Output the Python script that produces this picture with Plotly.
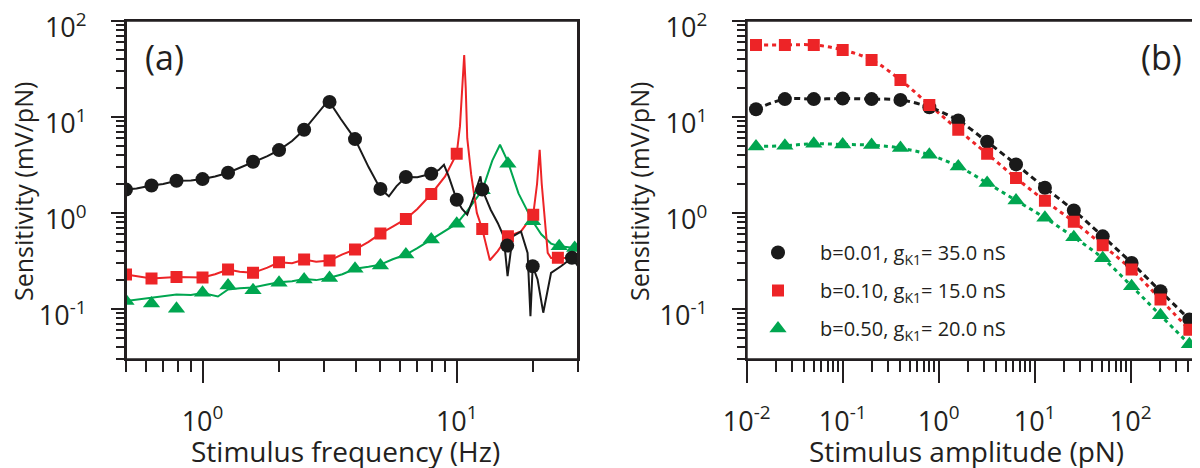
import plotly.graph_objects as go

# ---------------- Panel (a): sensitivity vs stimulus frequency ----------------
a_black_f = [0.5, 0.63, 0.79, 1.0, 1.26, 1.58, 2.0, 2.51, 3.16, 3.98, 5.01, 6.31, 7.94, 10.0, 12.6, 15.8, 19.9, 28.4]
a_black_s = [1.75, 1.93, 2.16, 2.25, 2.62, 3.41, 4.51, 7.33, 14.3, 5.87, 1.78, 2.37, 2.56, 1.37, 1.75, 0.457, 0.279, 0.341]
a_red_f = [0.5, 0.63, 0.79, 1.0, 1.26, 1.58, 2.0, 2.51, 3.16, 3.98, 5.01, 6.31, 7.94, 10.0, 12.6, 15.9, 20.0, 25.0]
a_red_s = [0.229, 0.208, 0.216, 0.213, 0.258, 0.238, 0.307, 0.327, 0.320, 0.416, 0.61, 0.867, 1.575, 4.13, 0.682, 0.571, 0.96, 0.341]
a_green_f = [0.5, 0.63, 0.79, 1.0, 1.26, 1.58, 2.0, 2.51, 3.16, 3.98, 5.01, 6.31, 7.94, 10.0, 12.6, 15.9, 19.9, 25.3, 29.1]
a_green_s = [0.121, 0.114, 0.1007, 0.1477, 0.176, 0.157, 0.1876, 0.203, 0.211, 0.262, 0.284, 0.369, 0.528, 0.774, 1.72, 3.25, 0.818, 0.45, 0.433]

a_black_line_f = [0.5, 0.55, 0.63, 0.7, 0.79, 0.9, 1.0, 1.12, 1.26, 1.4, 1.58, 1.8, 2.0, 2.25, 2.51, 2.8, 3.0, 3.16,
                  3.5, 3.98, 4.5, 5.01, 5.41, 5.8, 6.31, 7.0, 7.94, 8.5, 8.91, 9.3, 10.0, 10.5, 11.0, 11.7, 12.4,
                  12.6, 13.6, 14.5, 15.3, 15.85, 16.6, 17.9, 19.0, 19.5, 19.9, 20.8, 21.9, 23.5, 25.7, 28.4, 30.0]
a_black_line_s = [1.75, 1.80, 1.93, 2.0, 2.16, 2.18, 2.25, 2.4, 2.62, 2.95, 3.41, 3.9, 4.51, 5.6, 7.33, 10.5, 13.0, 14.3,
                  9.5, 5.87, 3.0, 1.78, 1.49, 1.9, 2.37, 2.35, 2.56, 2.8, 3.17, 2.4, 1.37, 1.1, 0.96, 1.5, 2.4,
                  1.75, 1.08, 0.787, 0.571, 0.22, 0.571, 0.64, 0.384, 0.084, 0.279, 0.203, 0.0916, 0.238, 0.279, 0.341, 0.279]
a_red_line_f = [0.5, 0.63, 0.79, 1.0, 1.12, 1.26, 1.4, 1.58, 1.8, 2.0, 2.25, 2.51, 2.8, 3.16, 3.55, 3.98, 4.5, 5.01,
                5.6, 6.31, 7.0, 7.94, 9.0, 10.0, 10.3, 10.5, 10.7, 10.85, 11.0, 11.4, 12.0, 12.6, 13.5, 14.5, 15.9,
                17.9, 20.0, 20.7, 21.2, 21.6, 22.2, 22.8, 23.5, 25.0, 30.0]
a_red_line_s = [0.229, 0.208, 0.216, 0.213, 0.23, 0.258, 0.245, 0.238, 0.27, 0.307, 0.30, 0.327, 0.31, 0.320, 0.37, 0.416,
                0.5, 0.61, 0.72, 0.867, 1.1, 1.575, 2.4, 4.13, 8.0, 18.0, 44.0, 20.0, 6.0, 2.5, 1.0, 0.682, 0.322,
                0.40, 0.571, 0.644, 0.96, 2.0, 4.54, 2.0, 0.8, 0.384, 0.34, 0.341, 0.34]
a_green_line_f = [0.5, 0.63, 0.79, 0.9, 1.0, 1.15, 1.26, 1.4, 1.58, 1.8, 2.0, 2.25, 2.51, 2.8, 3.16, 3.55, 3.98, 4.5,
                  5.01, 5.6, 6.31, 7.0, 7.94, 9.0, 10.0, 11.0, 12.6, 13.8, 14.8, 15.9, 17.5, 19.9, 21.5, 23.5, 25.3, 30.0]
a_green_line_s = [0.121, 0.13, 0.142, 0.14, 0.147, 0.135, 0.16, 0.165, 0.168, 0.18, 0.19, 0.195, 0.205, 0.2, 0.212,
                  0.23, 0.262, 0.275, 0.29, 0.33, 0.369, 0.43, 0.528, 0.65, 0.774, 1.05, 1.72, 3.5, 5.12, 3.4, 1.6,
                  0.818, 0.6, 0.48, 0.45, 0.43]

# ---------------- Panel (b): sensitivity vs stimulus amplitude ----------------
b_amp = [0.0125, 0.025, 0.05, 0.1, 0.2, 0.4, 0.8, 1.6, 3.2, 6.4, 12.8, 25.6, 51.2, 102.4, 204.8, 409.6]
b_black = [12.0, 15.3, 15.3, 15.5, 15.3, 15.0, 12.6, 9.16, 5.50, 3.20, 1.83, 1.06, 0.571, 0.302, 0.153, 0.078]
b_red = [56.0, 56.0, 56.0, 49.7, 39.1, 24.2, 13.3, 7.33, 4.13, 2.31, 1.34, 0.81, 0.461, 0.258, 0.126, 0.061]
b_green = [4.92, 5.0, 5.25, 5.16, 5.08, 4.73, 4.03, 3.05, 2.05, 1.35, 0.89, 0.56, 0.338, 0.173, 0.086, 0.043]

legend_names = ["b=0.01, g<sub>K1</sub>= 35.0 nS",
                "b=0.10, g<sub>K1</sub>= 15.0 nS",
                "b=0.50, g<sub>K1</sub>= 20.0 nS"]

FONT = "Open Sans"
INK = "#231f20"
BLACK = "#1a1a1a"
RED = "#ed2427"
GREEN = "#00a650"

fig = go.Figure()

for f, s, c in [(a_green_line_f, a_green_line_s, GREEN), (a_red_line_f, a_red_line_s, RED),
                (a_black_line_f, a_black_line_s, BLACK)]:
    fig.add_trace(go.Scatter(x=f, y=s, mode="lines", line=dict(color=c, width=2),
                             xaxis="x", yaxis="y", showlegend=False, hoverinfo="skip"))
fig.add_trace(go.Scatter(x=a_green_f, y=a_green_s, mode="markers",
                         marker=dict(symbol="triangle-up", size=15, color=GREEN),
                         xaxis="x", yaxis="y", showlegend=False))
fig.add_trace(go.Scatter(x=a_red_f, y=a_red_s, mode="markers",
                         marker=dict(symbol="square", size=12, color=RED),
                         xaxis="x", yaxis="y", showlegend=False))
fig.add_trace(go.Scatter(x=a_black_f, y=a_black_s, mode="markers",
                         marker=dict(symbol="circle", size=14, color=BLACK),
                         xaxis="x", yaxis="y", showlegend=False))

for s, c, d in [(b_green, GREEN, "4px,4px"), (b_red, RED, "4px,4px"), (b_black, BLACK, "6px,4px")]:
    fig.add_trace(go.Scatter(x=b_amp, y=s, mode="lines", line=dict(color=c, width=3, dash=d, shape="spline"),
                             xaxis="x2", yaxis="y2", showlegend=False, hoverinfo="skip"))
for s, c, sym, sz, name, grp in [(b_black, BLACK, "circle", 14, legend_names[0], "g1"),
                                 (b_red, RED, "square", 12, legend_names[1], "g2"),
                                 (b_green, GREEN, "triangle-up", 15, legend_names[2], "g3")]:
    fig.add_trace(go.Scatter(x=b_amp, y=s, mode="markers", name=name, legendgroup=grp,
                             marker=dict(symbol=sym, size=sz, color=c),
                             xaxis="x2", yaxis="y2"))

# The page body has an 8 px margin; the figure fills the rest of the 1200x468 window.
OFF = 8
W, H = 1200 - OFF, 468 - OFF


def fx(px):
    return (px - OFF) / W


def fy(py):
    return 1 - (py - OFF) / H


common = dict(type="log", showline=True, linewidth=2, linecolor=INK, mirror=True, automargin=False,
              ticks="outside", tickwidth=2, tickcolor=INK, showgrid=False, zeroline=False,
              ticklabeloverflow="allow",
              tickfont=dict(family=FONT, size=27, color=INK))


def minor(length):
    return dict(ticks="outside", ticklen=length, tickwidth=1.5, tickcolor=INK, dtick="D1", showgrid=False)


def sup(e):
    return "10<sup>%d</sup>" % e


ylog_vals = [0.1, 1, 10, 100]
ylog_text = [sup(-1), sup(0), sup(1), sup(2)]
y_dom = [fy(359.3), fy(20.7)]

frames = [dict(type="rect", xref=xr + " domain", yref=yr + " domain", x0=0, x1=1, y0=0, y1=1,
               line=dict(color=INK, width=2), fillcolor="rgba(0,0,0,0)", layer="above")
          for xr, yr in [("x", "y"), ("x2", "y2")]]

fig.update_layout(
    template="none",
    width=W, height=H, autosize=False,
    margin=dict(l=0, r=0, t=0, b=0, pad=0),
    paper_bgcolor="white", plot_bgcolor="white",
    font=dict(family=FONT, color=INK),
    xaxis=dict(**common, domain=[fx(126), fx(578)], anchor="y",
               range=[-0.30103, 1.4771], tickvals=[1, 10], ticktext=[sup(0), sup(1)],
               ticklen=22, minor=minor(11), ticklabelstandoff=15),
    yaxis=dict(**common, domain=y_dom, anchor="x",
               range=[-1.523, 2.0005], tickvals=ylog_vals, ticktext=ylog_text,
               ticklen=13, minor=minor(8), ticklabelstandoff=19, ticklabelshift=7),
    xaxis2=dict(**common, domain=[fx(746.7), fx(1197.7)], anchor="y2",
                range=[-2, 2.699], tickvals=[0.01, 0.1, 1, 10, 100],
                ticktext=[sup(-2), sup(-1), sup(0), sup(1), sup(2)],
                ticklen=22, minor=minor(11), ticklabelstandoff=15),
    yaxis2=dict(**common, domain=y_dom, anchor="x2",
                range=[-1.523, 2.0005], tickvals=ylog_vals, ticktext=ylog_text,
                ticklen=13, minor=minor(8), ticklabelstandoff=19, ticklabelshift=7),
    shapes=frames,
    showlegend=True,
    legend=dict(x=fx(736), y=fy(233), xanchor="left", yanchor="top", itemwidth=74,
                bgcolor="rgba(0,0,0,0)", font=dict(family=FONT, size=20, color=INK),
                tracegroupgap=9, itemsizing="trace"),
    annotations=[
        dict(text="(a)", x=fx(164), y=fy(57), xref="paper", yref="paper", showarrow=False,
             xanchor="center", yanchor="middle", font=dict(family=FONT, size=34, color=INK)),
        dict(text="(b)", x=fx(1161), y=fy(57), xref="paper", yref="paper", showarrow=False,
             xanchor="center", yanchor="middle", font=dict(family=FONT, size=34, color=INK)),
        dict(text="Sensitivity (mV/pN)", x=fx(23), y=fy(192), xref="paper", yref="paper",
             showarrow=False, textangle=-90, xanchor="center", yanchor="middle",
             font=dict(family=FONT, size=25, color=INK)),
        dict(text="Sensitivity (mV/pN)", x=fx(639), y=fy(192), xref="paper", yref="paper",
             showarrow=False, textangle=-90, xanchor="center", yanchor="middle",
             font=dict(family=FONT, size=25, color=INK)),
        dict(text="Stimulus frequency (Hz)", x=fx(345), y=fy(451), xref="paper", yref="paper",
             showarrow=False, xanchor="center", yanchor="middle", font=dict(family=FONT, size=28, color=INK)),
        dict(text="Stimulus amplitude (pN)", x=fx(966), y=fy(451), xref="paper", yref="paper",
             showarrow=False, xanchor="center", yanchor="middle", font=dict(family=FONT, size=28, color=INK)),
    ],
)

fig.write_html("out.html")
